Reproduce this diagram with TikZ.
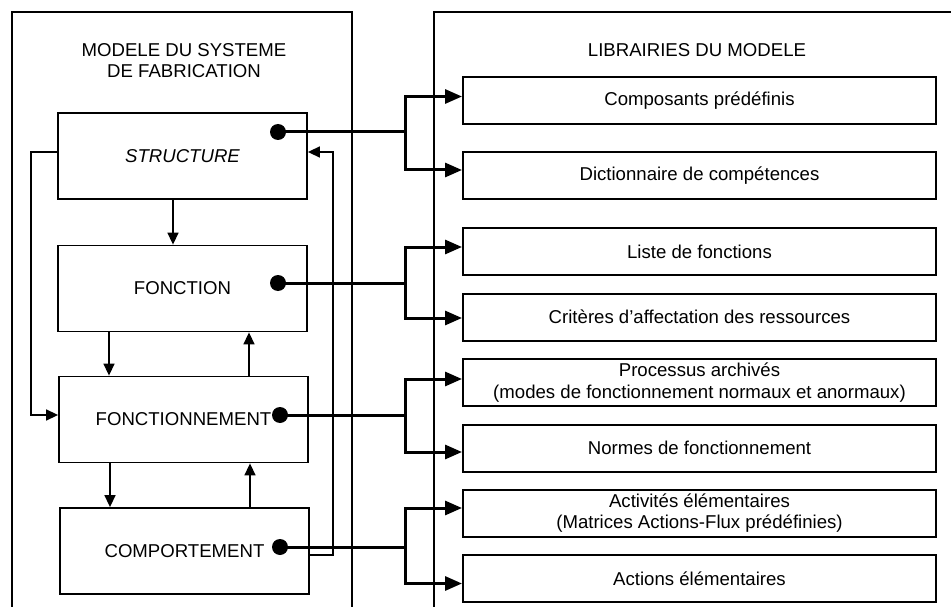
\documentclass[tikz,border=0pt]{standalone}
\usepackage{fontspec}
\setmainfont{Liberation Sans}
\usetikzlibrary{arrows.meta,calc}
\begin{document}
\begin{tikzpicture}[x=1pt,y=-1pt,
  txt/.style={font=\fontsize{18.6}{21.5}\selectfont, align=center},
  lbox/.style={draw, line width=1.8pt, minimum width=249pt, minimum height=86pt, inner sep=0pt, txt},
  rbox/.style={draw, line width=2pt, minimum width=473pt, minimum height=47pt, inner sep=0pt, txt},
  dotn/.style={circle, fill, inner sep=0pt, minimum size=16pt},
  panel/.style={line width=1.3pt},
  fine/.style={line width=1.5pt, -{Triangle[length=12pt,width=11pt]}},
  link/.style={line width=3pt, -{Triangle[length=17pt,width=14pt]}},
]
\useasboundingbox (0,0) rectangle (951,607);

% panels
\draw[panel] (12,607) -- (12,12) -- (352,12) -- (352,607);
\draw[panel] (434,607) -- (434,12) -- (951,12);

% titles
\node[txt] (t1) at (184,60.5) {MODELE DU SYSTEME\\DE FABRICATION};
\node[txt] (t2) at (697,50) {LIBRAIRIES DU MODELE};

% left boxes
\node[lbox, font=\fontsize{18.6}{21.5}\selectfont\itshape] (S) at (182.5,156) {STRUCTURE};
\node[lbox] (F) at (182.5,288.5) {FONCTION};
\node[lbox] (FN) at (183.5,419.5) {FONCTIONNEMENT};
\node[lbox] (C) at (184.5,551) {COMPORTEMENT};

% right boxes
\node[rbox] (b1) at (699.5,100.5) {Composants prédéfinis};
\node[rbox] (b2) at (699.5,176) {Dictionnaire de compétences};
\node[rbox] (b3) at (699.5,251.5) {Liste de fonctions};
\node[rbox] (b4) at (699.5,317) {Critères d’affectation des ressources};
\node[rbox] (b5) at (699.5,382.5) {Processus archivés\\(modes de fonctionnement normaux et anormaux)};
\node[rbox] (b6) at (699.5,448) {Normes de fonctionnement};
\node[rbox] (b7) at (699.5,513) {Activités élémentaires\\(Matrices Actions-Flux prédéfinies)};
\node[rbox] (b8) at (699.5,578.5) {Actions élémentaires};

% vertical arrows between left boxes
\draw[fine] ([xshift=-9.5pt]S.south) -- ([xshift=-9.5pt]S.south |- F.north);
\draw[fine] ([xshift=-73.5pt]F.south) -- ([xshift=-73.5pt]F.south |- FN.north);
\draw[fine] ([xshift=66.5pt]F.south |- FN.north) -- ([xshift=66.5pt]F.south);
\draw[fine] ([xshift=-73.5pt]FN.south) -- ([xshift=-73.5pt]FN.south |- C.north);
\draw[fine] ([xshift=66.5pt]FN.south |- C.north) -- ([xshift=66.5pt]FN.south);

% feedback loops
\coordinate (L1) at (31,0);
\coordinate (R1) at (333,0);
\coordinate (FNin) at ([yshift=4.5pt]FN.west);
\coordinate (Sin) at ([yshift=4pt]S.east);
\draw[fine] ([yshift=4pt]S.west) -| (L1 |- FNin) -- (FNin);
\draw[fine] ([yshift=-4pt]C.east) -| (R1 |- Sin) -- (Sin);

% dots
\node[dotn] (dS) at (278,132) {};
\node[dotn] (dF) at (278,283) {};
\node[dotn] (dFN) at (280,415) {};
\node[dotn] (dC) at (280,547) {};

% links to libraries
\coordinate (bx) at (405,0);
\coordinate (a1) at ([yshift=4pt]b1.west);
\coordinate (a2) at ([yshift=6pt]b2.west);
\coordinate (a3) at ([yshift=4.5pt]b3.west);
\coordinate (a4) at ([yshift=-1pt]b4.west);
\coordinate (a5) at ([yshift=3.5pt]b5.west);
\coordinate (a6) at ([yshift=-4pt]b6.west);
\coordinate (a7) at ([yshift=5pt]b7.west);
\coordinate (a8) at ([yshift=-5pt]b8.west);
\draw[link] (dS.center) -| (bx |- a1) -- (a1);
\draw[link] (dS.center) -| (bx |- a2) -- (a2);
\draw[link] (dF.center) -| (bx |- a3) -- (a3);
\draw[link] (dF.center) -| (bx |- a4) -- (a4);
\draw[link] (dFN.center) -| (bx |- a5) -- (a5);
\draw[link] (dFN.center) -| (bx |- a6) -- (a6);
\draw[link] (dC.center) -| (bx |- a7) -- (a7);
\draw[link] (dC.center) -| (bx |- a8) -- (a8);
\end{tikzpicture}
\end{document}
